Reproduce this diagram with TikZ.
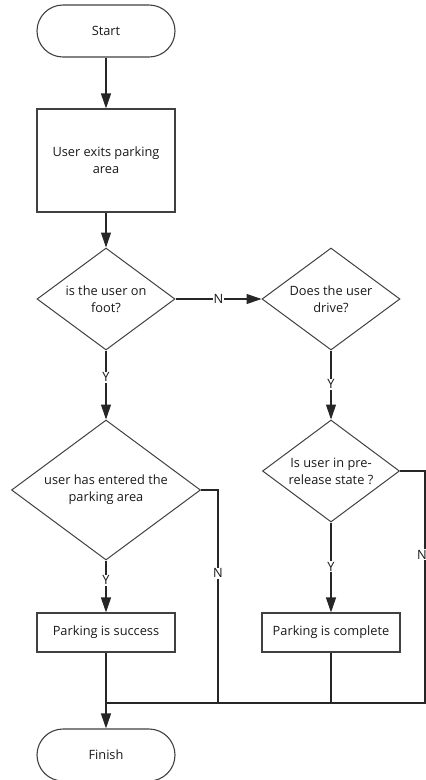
\documentclass[tikz,border=0pt]{standalone}
\usepackage{fontspec}
\setmainfont{Open Sans}
\usetikzlibrary{shapes.geometric,arrows.meta}
\begin{document}
\begin{tikzpicture}[x=1pt,y=-1pt,
  every node/.style={font=\fontsize{12.8}{17}\selectfont, text=black!90},
  term/.style={draw=black!75, line width=1.1pt, rounded corners=26pt, minimum width=138pt, minimum height=52pt, inner sep=0pt},
  proc/.style={draw=black!75, line width=1.1pt, minimum width=138pt, inner sep=0pt, align=center},
  dec/.style={draw=black!75, line width=1pt, diamond, shape aspect=1.35, inner sep=0pt, align=center},
  flow/.style={draw=black!85, line width=1.1pt},
  arr/.style={flow, -{Triangle[length=15pt,width=10pt]}},
  lab/.style={fill=white, inner sep=1pt}
]
\useasboundingbox (0,0) rectangle (426,780);

\node[term] (start) at (106,31) {Start};
\node[proc, minimum height=103pt] (exit) at (106,160.5) {User exits parking\\area};
\node[dec, minimum width=138pt, minimum height=102pt] (foot) at (106,299) {is the user on\\foot?};
\node[dec, minimum width=138pt, minimum height=102pt] (drive) at (331,299) {Does the user\\drive?};
\node[dec, minimum width=189pt, minimum height=140pt] (entered) at (106,490) {user has entered the\\parking area};
\node[dec, minimum width=137pt, minimum height=102pt] (pre) at (331,471) {Is user in pre-\\release state ?};
\node[proc, minimum height=39pt] (success) at (106,632.5) {Parking is success};
\node[proc, minimum height=39pt] (complete) at (331,632.5) {Parking is complete};
\node[term] (finish) at (106,755) {Finish};

\coordinate (j) at (106,703);
\coordinate (cl) at (218,703);
\coordinate (cr) at (425,703);

\draw[arr] (start) -- (exit);
\draw[arr] (exit) -- (foot);
\draw[arr] (foot) -- node[lab]{N} (drive);
\draw[arr] (foot) -- node[lab, pos=0.39]{Y} (entered);
\draw[arr] (drive) -- node[lab, pos=0.49]{Y} (pre);
\draw[arr] (entered) -- node[lab, pos=0.38]{Y} (success);
\draw[arr] (pre) -- node[lab, pos=0.49]{Y} (complete);
\draw[flow] (success) -- (j);
\draw[arr] (j) -- (finish);
\draw[flow] (entered.east) -| node[lab, pos=0.695]{N} (cl) -- (j);
\draw[flow] (pre.east) -| node[lab, pos=0.68, xshift=-3pt]{N} (cr) -- (j);
\draw[flow] (complete) -- (complete |- j);
\end{tikzpicture}
\end{document}
